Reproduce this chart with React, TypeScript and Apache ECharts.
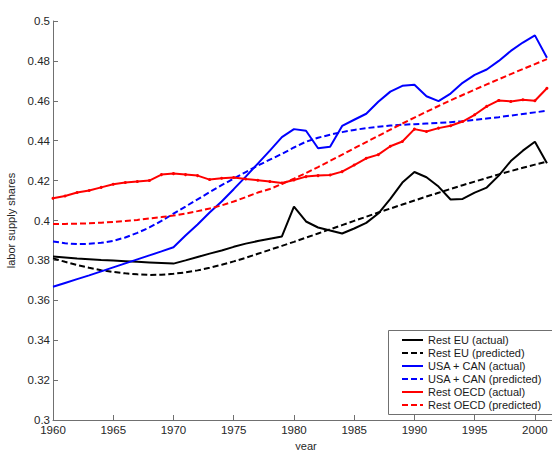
import React, { useEffect, useRef } from "react";
import * as echarts from "echarts";

const years = [
  1960, 1961, 1962, 1963, 1964, 1965, 1966, 1967, 1968, 1969,
  1970, 1971, 1972, 1973, 1974, 1975, 1976, 1977, 1978, 1979,
  1980, 1981, 1982, 1983, 1984, 1985, 1986, 1987, 1988, 1989,
  1990, 1991, 1992, 1993, 1994, 1995, 1996, 1997, 1998, 1999,
  2000, 2001,
];

const restEUActual = [
  0.382, 0.3815, 0.381, 0.3806, 0.3802, 0.3799, 0.3796, 0.3793, 0.379, 0.3787,
  0.3784, 0.38, 0.3817, 0.3834, 0.385, 0.3868, 0.3884, 0.3897, 0.3909, 0.392,
  0.407, 0.3995, 0.3965, 0.395, 0.3935, 0.396, 0.3988, 0.4035, 0.4108, 0.419,
  0.4243, 0.4217, 0.417, 0.4105, 0.4108, 0.414, 0.4165, 0.4225, 0.4298, 0.435,
  0.4395, 0.4287,
];

const restEUPredicted = [
  0.381, 0.3793, 0.3777, 0.3763, 0.3751, 0.3742, 0.3735, 0.373, 0.3727, 0.3728,
  0.3733, 0.374, 0.375, 0.3763, 0.3778, 0.3795, 0.3813, 0.3833, 0.3853, 0.3873,
  0.3893, 0.3914, 0.3935, 0.3956, 0.3977, 0.3998, 0.4019, 0.404, 0.406, 0.408,
  0.41, 0.412, 0.4139, 0.4158, 0.4177, 0.4195, 0.4213, 0.4231, 0.4248, 0.4264,
  0.428, 0.4295,
];

const usaCanActual = [
  0.3668, 0.3687, 0.3706, 0.3725, 0.3745, 0.3765, 0.3785, 0.3805, 0.3825, 0.3845,
  0.3866, 0.3925, 0.398, 0.404, 0.4095, 0.4157, 0.422, 0.4285, 0.435, 0.4418,
  0.4458, 0.445, 0.4362, 0.437, 0.4474, 0.4505, 0.4535, 0.4595, 0.4646, 0.4675,
  0.468, 0.4623, 0.4598, 0.4636, 0.469, 0.473, 0.4757, 0.48, 0.485, 0.4892,
  0.4928, 0.4816,
];

const usaCanPredicted = [
  0.3895, 0.3886, 0.3882, 0.3883, 0.3888, 0.3898, 0.3915, 0.3938, 0.3965, 0.3998,
  0.4034, 0.407, 0.4106, 0.4142, 0.4177, 0.421, 0.4243, 0.4275, 0.4305, 0.4334,
  0.4366, 0.4395, 0.4415, 0.443, 0.4443, 0.4454, 0.4463, 0.447, 0.4476, 0.448,
  0.4483, 0.4486, 0.4489, 0.4493, 0.4498, 0.4504, 0.4511, 0.4518, 0.4526, 0.4534,
  0.4542, 0.455,
];

const restOECDActual = [
  0.4111, 0.4123, 0.414, 0.415, 0.4166, 0.4182, 0.419, 0.4195, 0.42, 0.423,
  0.4235, 0.423, 0.4225, 0.4205, 0.4212, 0.4215, 0.4208, 0.4202, 0.4195, 0.4188,
  0.4203, 0.422, 0.4225, 0.4228, 0.4245, 0.4278, 0.4312, 0.433, 0.4372, 0.4396,
  0.4458, 0.4446, 0.4463, 0.4475, 0.4496, 0.453, 0.4572, 0.4602, 0.4597, 0.4605,
  0.46, 0.4663,
];

const restOECDPredicted = [
  0.3983, 0.3983, 0.3984, 0.3986, 0.3989, 0.3993, 0.3998, 0.4003, 0.401, 0.4017,
  0.4025, 0.4035, 0.4047, 0.406, 0.4076, 0.4095, 0.4117, 0.414, 0.4158, 0.4183,
  0.421, 0.4238, 0.4268, 0.4299, 0.433, 0.4362, 0.4393, 0.4424, 0.4455, 0.4486,
  0.4516, 0.4545, 0.4574, 0.4602, 0.4629, 0.4656, 0.4682, 0.4708, 0.4734, 0.4759,
  0.4784, 0.4809,
];

const xTicks = [1960, 1965, 1970, 1975, 1980, 1985, 1990, 1995, 2000];

const seriesDefs = [
  { name: "Rest EU (actual)", values: restEUActual, color: "#000000", dashed: false, marker: false },
  { name: "Rest EU (predicted)", values: restEUPredicted, color: "#000000", dashed: true, marker: false },
  { name: "USA + CAN (actual)", values: usaCanActual, color: "#0000ff", dashed: false, marker: false },
  { name: "USA + CAN (predicted)", values: usaCanPredicted, color: "#0000ff", dashed: true, marker: false },
  { name: "Rest OECD (actual)", values: restOECDActual, color: "#ff0000", dashed: false, marker: true },
  { name: "Rest OECD (predicted)", values: restOECDPredicted, color: "#ff0000", dashed: true, marker: false },
];

const FONT = "'Liberation Sans', Arial, Helvetica, sans-serif";

export default function App() {
  const ref = useRef<HTMLDivElement>(null);

  useEffect(() => {
    if (!ref.current) return;
    const chart = echarts.init(ref.current, null, { renderer: "svg" });

    const series = seriesDefs.map((s) => ({
      name: s.name,
      type: "line",
      data: years.map((y, i) => [y, s.values[i]]),
      showSymbol: s.marker,
      symbol: s.marker ? "circle" : "none",
      symbolSize: 3,
      itemStyle: { color: s.color },
      lineStyle: {
        color: s.color,
        width: 2,
        type: s.dashed ? [6, 3] : "solid",
      },
      z: 2,
    }));

    chart.setOption({
      animation: false,
      textStyle: { fontFamily: FONT },
      grid: {
        left: 53,
        top: 21,
        bottom: 30,
        right: -7,
        containLabel: false,
        outerBoundsMode: "none",
      },
      xAxis: {
        type: "value",
        min: 1960,
        max: 2002,
        interval: 5,
        name: "year",
        nameLocation: "middle",
        nameGap: 14,
        nameTextStyle: { color: "#262626", fontSize: 11, lineHeight: 10, fontFamily: FONT },
        axisLine: { show: true, lineStyle: { color: "#707070", width: 1 } },
        axisTick: {
          show: true,
          inside: true,
          length: 5,
          customValues: xTicks,
          lineStyle: { color: "#707070" },
        },
        axisLabel: {
          color: "#262626",
          fontSize: 11.5,
          fontFamily: FONT,
          margin: 4,
          customValues: xTicks,
          formatter: (v: number) => (v % 5 === 0 && v <= 2000 ? String(v) : ""),
        },
        splitLine: { show: false },
      },
      yAxis: {
        type: "value",
        min: 0.3,
        max: 0.5,
        interval: 0.02,
        name: "labor supply shares",
        nameLocation: "middle",
        nameGap: 33,
        nameTextStyle: { color: "#262626", fontSize: 11, fontFamily: FONT },
        axisLine: { show: true, lineStyle: { color: "#707070", width: 1 } },
        axisTick: { show: true, inside: true, length: 5, lineStyle: { color: "#707070" } },
        axisLabel: {
          color: "#262626",
          fontSize: 11.5,
          fontFamily: FONT,
          margin: 3,
          formatter: (v: number) => String(parseFloat(v.toFixed(2))),
        },
        splitLine: { show: false },
      },
      legend: {
        orient: "vertical",
        left: 396,
        top: 329,
        itemWidth: 21,
        itemHeight: 12,
        itemGap: 1,
        z: 10,
        data: seriesDefs.map((s) => s.name),
        itemStyle: { opacity: 0 },
        textStyle: { color: "#1a1a1a", fontSize: 11, fontFamily: FONT, lineHeight: 12 },
        selectedMode: false,
      },
      graphic: [
        {
          type: "rect",
          z: 5,
          shape: { x: 388.5, y: 330.5, width: 190, height: 84 },
          style: { fill: "#ffffff", stroke: "#707070", lineWidth: 1 },
        },
      ],
      series,
    });

    return () => chart.dispose();
  }, []);

  return (
    <div
      ref={ref}
      style={{ position: "fixed", left: 0, top: 0, width: 552, height: 450, background: "#fff" }}
    />
  );
}
